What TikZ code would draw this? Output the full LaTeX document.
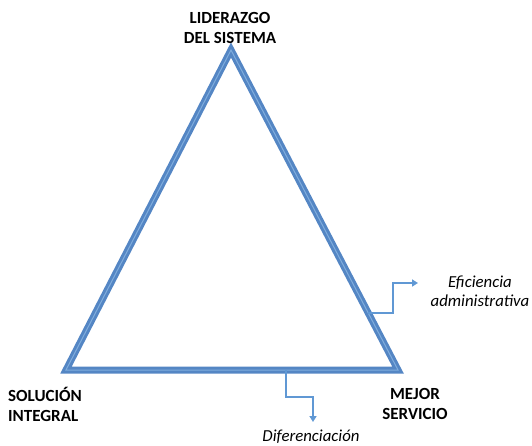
\documentclass[tikz,border=0pt]{standalone}
\usepackage{fontspec}
\setmainfont{Carlito}
\usetikzlibrary{arrows.meta,positioning,calc}
\definecolor{edgeblue}{RGB}{84,134,196}
\definecolor{linkblue}{RGB}{96,152,212}
\tikzset{corner/.style={font=\fontsize{17}{20}\selectfont\bfseries,inner sep=0pt}}
\tikzset{effect/.style={font=\fontsize{16.8}{19}\selectfont\itshape,inner sep=0pt,align=center}}
\tikzset{side/.style={draw=edgeblue,line width=3pt,line join=miter,double=linkblue!80,double distance=1pt}}
\tikzset{link/.style={draw=linkblue,line width=2.2pt,-{Triangle[length=6pt,width=7pt]}}}
\begin{document}
\begin{tikzpicture}[x=1pt,y=-1pt]
  \useasboundingbox (0,0) rectangle (532,445);
  \coordinate (top) at (231,50);
  \coordinate (left) at (66,370);
  \coordinate (right) at (398,370);
  \draw[side] (top) -- (right) -- (left) -- cycle;
  % labels at the corners
  \node[corner,align=center] (lider) at (230,28) {LIDERAZGO\\DEL SISTEMA};
  \node[corner,align=left,anchor=west] (solucion) at (8,404) {SOLUCIÓN\\INTEGRAL};
  \node[corner,align=center] (mejor) at (415,404) {MEJOR\\SERVICIO};
  % effects
  \node[effect] (eficiencia) at (480,291) {Eficiencia\\administrativa};
  \node[effect] (diferencia) at (311,437) {Diferenciación};
  \coordinate (efstart) at ($(right)!0.178!(top)$);
  \coordinate (efend) at (418,283);
  \coordinate (difstart) at (286,370);
  \coordinate (difend) at (313,422);
  \draw[link] (efstart) -- ++(25,0) |- (efend);
  \draw[link] (difstart) -- ++(0,27) -| (difend);
\end{tikzpicture}
\end{document}
